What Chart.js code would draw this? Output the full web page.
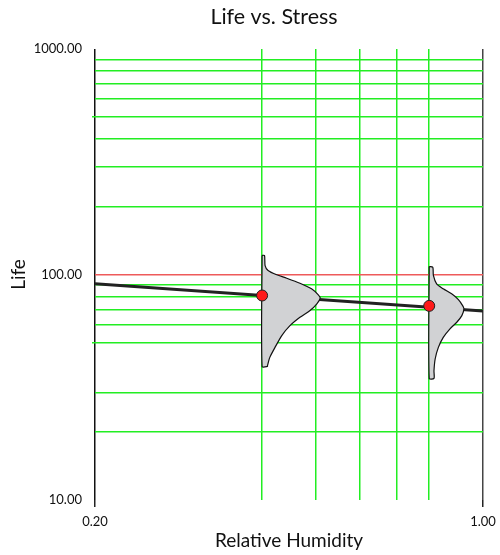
<!DOCTYPE html>
<html lang="en">
<head>
<meta charset="UTF-8">
<title>Life vs. Stress</title>
<script src="https://cdn.jsdelivr.net/npm/chart.js@4.4.0/dist/chart.umd.min.js"></script>
<style>
  body { margin: 0; background: #fff; }
  #wrap { width: 500px; height: 555px; }
</style>
</head>
<body>
<div id="wrap"><canvas id="life-canvas"></canvas></div>
<script>
// fitted life line
var lineStress = [0.2, 1.0];
var lineLife = [90.9, 68.9];

// test points (relative humidity, life)
var pointStress = [0.4, 0.8];
var pointLife = [80.7, 72.6];

// pdf outlines in data units (humidity, life)
var pdf1X = [0.400, 0.404, 0.405, 0.410, 0.425, 0.443, 0.468, 0.491, 0.505, 0.509, 0.502, 0.488, 0.468, 0.449, 0.434, 0.422, 0.413, 0.409, 0.409, 0.400, 0.400];
var pdf1Y = [121.5, 121.5, 109.6, 104.2, 99.7, 96.3, 91.5, 86.4, 81.2, 78.5, 74.1, 69.2, 64.6, 59.3, 53.6, 47.5, 42.9, 39.4, 39.1, 39.1, 121.5];
var pdf2X = [0.800, 0.812, 0.814, 0.825, 0.848, 0.878, 0.903, 0.919, 0.924, 0.916, 0.897, 0.872, 0.848, 0.831, 0.820, 0.816, 0.816, 0.800, 0.800];
var pdf2Y = [108.5, 107.7, 99.0, 90.9, 86.4, 82.1, 77.4, 72.8, 70.4, 65.7, 61.4, 57.4, 52.6, 47.5, 42.2, 37.4, 34.6, 34.6, 108.5];

// axis ticks
var xTicks = [0.2, 0.4, 0.5, 0.6, 0.7, 0.8, 1.0];
var xTickLabels = ['0.20', '', '', '', '', '', '1.00'];
var yTicks = [10, 20, 30, 50, 60, 70, 80, 90, 100, 200, 300, 400, 500, 600, 700, 800, 900, 1000];
var yTickLabels = ['10.00', '', '', '', '', '', '', '', '100.00', '', '', '', '', '', '', '', '', '1000.00'];

var GREEN = '#22ee22';
var RED = '#ee5a5a';
var NONE = 'rgba(0,0,0,0)';
var FONT = 'Lato';

function toPoints(xs, ys) {
    return xs.map(function(x, i) { return {x: x, y: ys[i]}; });
}

var titlePlugin = {
    id: 'lifeTitle',
    afterDraw: function(chart) {
        var ctx = chart.ctx;
        ctx.save();
        ctx.font = '21.5px ' + FONT;
        ctx.fillStyle = '#111';
        ctx.textAlign = 'center';
        ctx.textBaseline = 'middle';
        ctx.fillText('Life vs. Stress', 274, 17);
        ctx.restore();
    }
};

var pdfStyle = {
    type: 'line',
    backgroundColor: '#d1d2d4',
    borderColor: '#111',
    borderWidth: 1.2,
    pointRadius: 0,
    tension: 0.25,
    fill: 'shape',
    order: 1
};

var ctx = document.getElementById('life-canvas').getContext('2d');
new Chart(ctx, {
    type: 'line',
    data: {
        datasets: [
            {
                data: toPoints(lineStress, lineLife),
                borderColor: '#222',
                borderWidth: 3,
                pointRadius: 0,
                fill: false,
                order: 2
            },
            Object.assign({data: toPoints(pdf1X, pdf1Y)}, pdfStyle),
            Object.assign({data: toPoints(pdf2X, pdf2Y)}, pdfStyle),
            {
                data: toPoints(pointStress, pointLife),
                showLine: false,
                pointRadius: 5.5,
                pointBackgroundColor: '#ff1a1a',
                pointBorderColor: '#222',
                pointBorderWidth: 1,
                order: 0
            }
        ]
    },
    options: {
        responsive: true,
        maintainAspectRatio: false,
        animation: false,
        layout: { padding: { top: 49, right: 17, bottom: 0, left: 0 } },
        plugins: {
            legend: { display: false },
            tooltip: { enabled: false },
            title: { display: false }
        },
        scales: {
            x: {
                type: 'logarithmic',
                min: 0.2,
                max: 1.0,
                afterBuildTicks: function(scale) {
                    scale.ticks = xTicks.map(function(v) { return {value: v}; });
                },
                afterFit: function(scale) {
                    scale.height = 55;
                    scale.paddingRight = 0;
                    scale.paddingLeft = 0;
                },
                border: { display: false },
                grid: {
                    color: function(c) {
                        if (c.tick.value === 0.2) return '#111';
                        if (c.tick.value === 1.0) return '#444';
                        return GREEN;
                    },
                    tickColor: function(c) {
                        return (c.tick.value === 0.2 || c.tick.value === 1.0) ? '#222' : NONE;
                    },
                    lineWidth: 1.5,
                    tickLength: 7
                },
                ticks: {
                    autoSkip: false,
                    maxRotation: 0,
                    padding: 7,
                    color: '#111',
                    font: { family: FONT, size: 13 },
                    callback: function(value, index) { return xTickLabels[index]; }
                },
                title: {
                    display: true,
                    text: 'Relative Humidity',
                    color: '#111',
                    font: { family: FONT, size: 19 },
                    padding: { top: 0, bottom: 3 }
                }
            },
            y: {
                type: 'logarithmic',
                min: 10,
                max: 1000,
                afterBuildTicks: function(scale) {
                    scale.ticks = yTicks.map(function(v) { return {value: v}; });
                },
                afterFit: function(scale) { scale.width = 95; },
                border: { display: false },
                grid: {
                    color: function(c) {
                        var v = c.tick.value;
                        if (v === 100) return RED;
                        if (v === 10 || v === 1000) return NONE;
                        return GREEN;
                    },
                    tickColor: function(c) {
                        return (c.tick.value === 50 || c.tick.value === 500) ? GREEN : NONE;
                    },
                    lineWidth: 1.5,
                    tickLength: 3
                },
                ticks: {
                    autoSkip: false,
                    padding: 10,
                    color: '#111',
                    font: { family: FONT, size: 13 },
                    callback: function(value, index) { return yTickLabels[index]; }
                },
                title: {
                    display: true,
                    text: 'Life',
                    color: '#111',
                    font: { family: FONT, size: 19 },
                    padding: { top: 7, bottom: 0 }
                }
            }
        }
    },
    plugins: [titlePlugin]
});
</script>
</body>
</html>
